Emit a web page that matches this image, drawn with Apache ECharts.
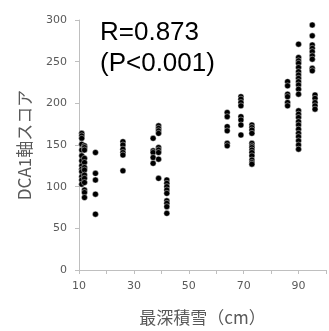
<!DOCTYPE html>
<html><head><meta charset="utf-8">
<script src="https://cdn.jsdelivr.net/npm/echarts@6/dist/echarts.min.js"></script>
<style>html,body{margin:0;padding:0;background:#fff}#c{width:329px;height:331px}</style>
</head><body><div id="c"></div>
<script>
// snow depth (cm) groups and DCA1 scores
const depths = [11, 12, 16, 26, 37, 39, 42, 64, 69, 73, 86, 90, 95, 96];
const scores = [
  [164,161,158,151,144,137,131,125,121,118,112,108,103],
  [149,147,144,134,129,123,120,114,110,105,96,93,87],
  [141,116,108,91,67],
  [154,150,145,141,138,119],
  [158,143,141,135,128],
  [173,170,167,164,147,144,141,133,110],
  [108,104,100,96,92,83,80,76,68],
  [189,184,172,167,152,149],
  [208,205,201,197,184,180,174,162],
  [174,171,168,164,152,149,147,144,141,137,132,129,127],
  [226,221,211,208,201,197],
  [271,255,251,248,243,238,234,230,226,222,217,211,191,187,183,178,174,169,164,160,155,150,145],
  [294,281,270,266,262,257,253,242,239],
  [210,206,201,197,193]
];
const xTickLabels = [10, 30, 50, 70, 90];
const annotation = ["R=0.873", "(P<0.001)"];

const points = [];
depths.forEach((d, i) => scores[i].forEach(v => points.push([d, v])));

const chart = echarts.init(document.getElementById('c'), null, {renderer: 'canvas'});
const lab = '#595959';
chart.setOption({
  animation: false,
  grid: {left: 79, top: 20, right: -7, bottom: 53},
  xAxis: {
    type: 'value', min: 10, max: 100, interval: 10,
    name: '最深積雪（cm）', nameLocation: 'middle', nameGap: 39,
    nameTextStyle: {fontSize: 17, color: lab, fontFamily: 'Noto Sans CJK JP'},
    axisLine: {show: true, lineStyle: {color: '#bfbfbf', width: 1}},
    axisTick: {show: true, length: 4, lineStyle: {color: '#bfbfbf'}},
    axisLabel: {color: lab, fontSize: 11, fontFamily: 'DejaVu Sans', margin: 11,
      formatter: v => xTickLabels.includes(v) ? String(v) : ''},
    splitLine: {show: false}
  },
  yAxis: {
    type: 'value', min: 0, max: 300, interval: 50,
    name: 'DCA1軸スコア', nameLocation: 'middle', nameGap: 46,
    nameTextStyle: {fontSize: 17, color: lab, fontFamily: 'Noto Sans CJK JP'},
    axisLine: {show: true, lineStyle: {color: '#bfbfbf', width: 1}},
    axisTick: {show: true, length: 4, lineStyle: {color: '#bfbfbf'}},
    axisLabel: {color: lab, fontSize: 11, fontFamily: 'DejaVu Sans', margin: 12},
    splitLine: {show: false}
  },
  graphic: [
    {type: 'text', left: 100, top: 20, style: {text: annotation[0], fontSize: 26, fontFamily: 'Liberation Sans', fill: '#000'}},
    {type: 'text', left: 100, top: 51, style: {text: annotation[1], fontSize: 26, fontFamily: 'Liberation Sans', fill: '#000'}}
  ],
  series: [{
    type: 'scatter', data: points, symbolSize: 6,
    itemStyle: {color: '#000', borderColor: 'rgba(255,255,255,0.7)', borderWidth: 0.6, opacity: 1}
  }]
});
</script></body></html>
